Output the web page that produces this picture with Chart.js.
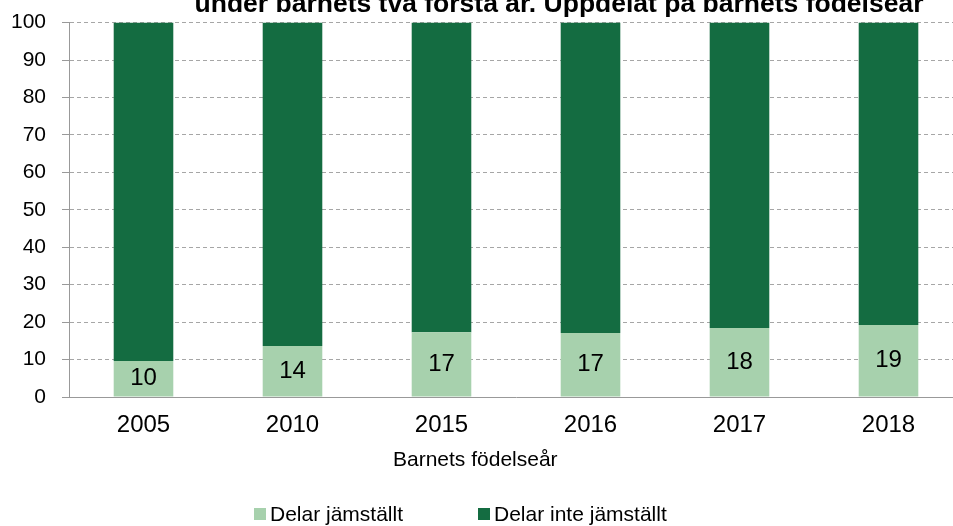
<!DOCTYPE html>
<html>
<head>
<meta charset="utf-8">
<script src="https://cdn.jsdelivr.net/npm/chart.js@4/dist/chart.umd.min.js"></script>
<style>
  html, body { margin: 0; padding: 0; background: #fff; overflow: hidden; }
  #wrap { width: 953px; height: 526px; overflow: hidden; }
  #myChart { display: block; margin-top: -6px; }
</style>
</head>
<body>
<div id="wrap"><canvas id="myChart" width="963" height="532"></canvas></div>
<script>
// data
const years = ['2005', '2010', '2015', '2016', '2017', '2018'];
const delarJamstallt = [9.6, 13.6, 17.3, 17.1, 18.4, 19.2];
const delarInteJamstallt = [90.4, 86.4, 82.7, 82.9, 81.6, 80.8];
const etiketter = [10, 14, 17, 17, 18, 19];
const serieNamn = ['Delar jämställt', 'Delar inte jämställt'];
const titel = 'under barnets två första år. Uppdelat på barnets födelseår';
const xTitel = 'Barnets födelseår';

const FONT = '"Liberation Sans", Arial, sans-serif';
const ljus = '#a7d1ad';
const mork = '#146c41';
const dy = 6; // canvas sits 6px higher than the page

// value labels inside the light segments
const etikettPlugin = {
    id: 'etiketter',
    afterDatasetsDraw(chart) {
        const ctx = chart.ctx;
        const meta = chart.getDatasetMeta(0);
        ctx.save();
        ctx.font = '24px ' + FONT;
        ctx.fillStyle = '#000';
        ctx.textAlign = 'center';
        ctx.textBaseline = 'middle';
        meta.data.forEach((bar, i) => {
            ctx.fillText(String(etiketter[i]), bar.x, (bar.y + bar.base) / 2);
        });
        ctx.restore();
    }
};

// clipped title, axis title and legend
const textPlugin = {
    id: 'texter',
    afterDraw(chart) {
        const ctx = chart.ctx;
        ctx.save();
        ctx.fillStyle = '#000';
        ctx.textAlign = 'center';
        ctx.textBaseline = 'alphabetic';
        ctx.font = 'bold 26.5px ' + FONT;
        ctx.fillText(titel, 559, 12 + dy);

        ctx.font = '21px ' + FONT;
        ctx.textAlign = 'left';
        ctx.fillText(xTitel, 393, 466 + dy);

        // legend
        const farger = [ljus, mork];
        const startX = [254, 478];
        ctx.textBaseline = 'middle';
        serieNamn.forEach((namn, i) => {
            ctx.fillStyle = farger[i];
            ctx.fillRect(startX[i], 508 + dy, 12, 12);
            ctx.fillStyle = '#000';
            ctx.fillText(namn, startX[i] + 16, 515 + dy);
        });
        ctx.restore();
    }
};

const config = {
    type: 'bar',
    data: {
        labels: years,
        datasets: [
            { label: serieNamn[0], data: delarJamstallt, backgroundColor: ljus },
            { label: serieNamn[1], data: delarInteJamstallt, backgroundColor: mork }
        ]
    },
    options: {
        responsive: false,
        animation: false,
        barPercentage: 0.4,
        categoryPercentage: 1.0,
        layout: { padding: { top: 16, right: 0, left: 9, bottom: 0 } },
        plugins: {
            legend: { display: false },
            title: { display: false },
            tooltip: { enabled: false }
        },
        scales: {
            x: {
                stacked: true,
                grid: { display: false, drawTicks: false },
                border: { display: true, color: '#999999', width: 1 },
                ticks: { font: { family: FONT, size: 24 }, color: '#000', padding: 14 },
                afterFit(scale) { scale.height = 129; }
            },
            y: {
                stacked: true,
                min: 0,
                max: 100,
                grid: { color: '#a6a6a6', tickColor: '#999999', tickLength: 7, drawTicks: true },
                border: { display: true, color: '#999999', width: 1, dash: [4, 3] },
                ticks: { stepSize: 10, font: { family: FONT, size: 21 }, color: '#000', padding: 16 },
                afterFit(scale) { scale.width = 60; }
            }
        }
    },
    plugins: [etikettPlugin, textPlugin]
};

const ctx = document.getElementById('myChart').getContext('2d');
new Chart(ctx, config);
</script>
</body>
</html>
